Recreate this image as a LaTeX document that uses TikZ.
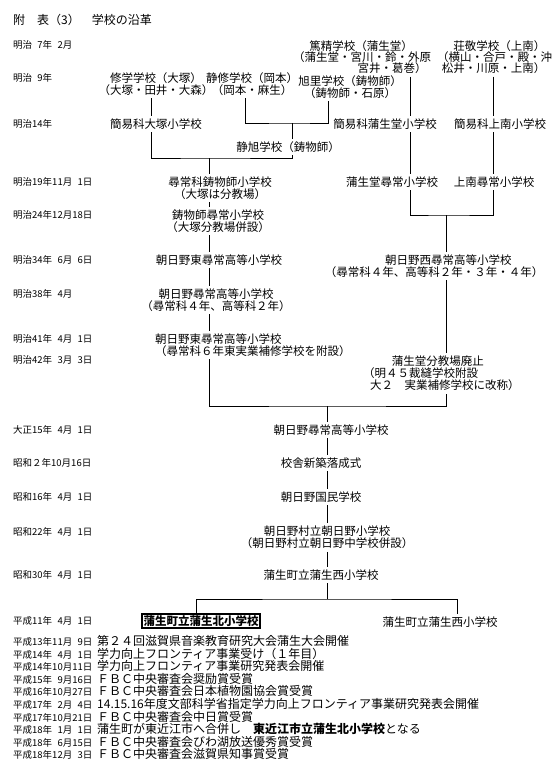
\documentclass[tikz,border=0pt]{standalone}
\usepackage{fontspec}
\setmainfont{Noto Sans CJK JP}
\newcommand\schfont{\fontsize{11.5}{12}\selectfont}
\newcommand\oldfont{\fontsize{11.5}{11.2}\selectfont}
\newcommand\datfont{\fontsize{9.5}{12}\selectfont}
\newcommand\evfont{\fontsize{12}{12}\selectfont}
\newcommand\padd{\phantom{0}}
\newcommand\evrow[2]{\makebox[84pt][l]{\datfont #1}#2}

\begin{document}
\begin{tikzpicture}[x=1pt,y=-1pt,
  every node/.style={inner sep=0pt,outer ysep=3pt,font=\schfont},
  datelbl/.style={anchor=west,font=\datfont},
  school/.style={align=center},
  schoolL/.style={align=left,anchor=west},
  oldschool/.style={align=left,anchor=west,font=\oldfont},
  newname/.style={draw,line width=1.1pt,inner sep=1.5pt,outer sep=0.5pt,font=\schfont\bfseries},
  evline/.style={anchor=west,font=\evfont,outer ysep=0pt},
  conn/.style={line width=0.8pt}]
  \useasboundingbox (0,0) rectangle (556,764);
  % column lines
  \coordinate (colA) at (209,0);
  \coordinate (colG) at (410,0);
  \coordinate (colJ) at (493,0);
  \coordinate (j1) at (292,123);
  \coordinate (j2) at (209,158);
  \coordinate (j3) at (446,215);
  \coordinate (j4) at (327,406);
  \coordinate (j5) at (327,599);

  \node[anchor=west,font=\fontsize{12}{12}\selectfont] (title) at (13,20) {附　表（3）　学校の沿革};

  % dates
  \node[datelbl] (d1) at (13,45) {明治\padd7年\padd2月};
  \node[datelbl] (d2) at (13,78) {明治\padd9年};
  \node[datelbl] (d3) at (13,124) {明治14年};
  \node[datelbl] (d4) at (13,182) {明治19年11月\padd1日};
  \node[datelbl] (d5) at (13,215) {明治24年12月18日};
  \node[datelbl] (d6) at (13,260) {明治34年\padd6月\padd6日};
  \node[datelbl] (d7) at (13,294) {明治38年\padd4月};
  \node[datelbl] (d8) at (13,339) {明治41年\padd4月\padd1日};
  \node[datelbl] (d9) at (13,360) {明治42年\padd3月\padd3日};
  \node[datelbl] (d10) at (13,430) {大正15年\padd4月\padd1日};
  \node[datelbl] (d11) at (13,463) {昭和２年10月16日};
  \node[datelbl] (d12) at (13,497) {昭和16年\padd4月\padd1日};
  \node[datelbl] (d13) at (13,532) {昭和22年\padd4月\padd1日};
  \node[datelbl] (d14) at (13,575) {昭和30年\padd4月\padd1日};
  \node[datelbl] (d15) at (13,621) {平成11年\padd4月\padd1日};

  % schools
  \node[oldschool] (tokusei) at (293,57) {\hspace*{1.4em}篤精学校（蒲生堂）\\（蒲生堂・宮川・鈴・外原\\\hspace*{5.6em}宮井・葛巻）};
  \node[oldschool] (sokei) at (437,57) {\hspace*{1.4em}荘敬学校（上南）\\（横山・合戸・殿・沖\\\hspace*{0.4em}松井・川原・上南）};
  \node[school] (shugaku) at (156,84) {修学学校（大塚）\\（大塚・田井・大森）};
  \node[school] (seishu) at (252,84) {静修学校（岡本）\\（岡本・麻生）};
  \node[school] (kyokuri) at (350,87) {旭里学校（鋳物師）\\（鋳物師・石原）};
  \node[school] (kan_otsuka) at (156,124) {簡易科大塚小学校};
  \node[school] (kan_gamo) at (385,124) {簡易科蒲生堂小学校};
  \node[school] (kan_jonan) at (500,124) {簡易科上南小学校};
  \node[school] (seikyoku) at (288,147) {静旭学校（鋳物師）};
  \node[school] (jinjo_imoji) at (220,188) {尋常科鋳物師小学校\\（大塚は分教場）};
  \node[school] (gamo_jinjo) at (392,182) {蒲生堂尋常小学校};
  \node[school] (jonan_jinjo) at (494,182) {上南尋常小学校};
  \node[school] (imoji_jinjo) at (218,221) {鋳物師尋常小学校\\（大塚分教場併設）};
  \node[school] (asahino_higashi) at (219,260) {朝日野東尋常高等小学校};
  \node[school] (asahino_nishi) at (434,266) {\hspace*{2.5em}朝日野西尋常高等小学校\\（尋常科４年、高等科２年・３年・４年）};
  \node[school] (asahino_jk) at (216,300) {朝日野尋常高等小学校\\（尋常科４年、高等科２年）};
  \node[schoolL] (asahino_higashi2) at (155,345) {朝日野東尋常高等小学校\\（尋常科６年東実業補修学校を附設）};
  \node[schoolL] (bunkyo_haishi) at (363,373.5) {\hspace*{2.5em}蒲生堂分教場廃止\\（明４５裁縫学校附設\\\hspace*{0.6em}大２　実業補修学校に改称）};
  \node[school] (asahino_jk2) at (331,430) {朝日野尋常高等小学校};
  \node[school] (kosha) at (321,463) {校舎新築落成式};
  \node[school] (kokumin) at (321,497) {朝日野国民学校};
  \node[school] (sonritsu) at (327,537.5) {朝日野村立朝日野小学校\\（朝日野村立朝日野中学校併設）};
  \node[school] (gamo_nishi) at (321,575) {蒲生町立蒲生西小学校};
  \node[newname] (gamo_kita) at (201,621) {蒲生町立蒲生北小学校};
  \node[school] (gamo_nishi2) at (440,622) {蒲生町立蒲生西小学校};

  % connectors
  \draw[conn] (shugaku.south -| 151,0) -- (kan_otsuka.north -| 151,0);
  \draw[conn] (tokusei.south -| colG) -- (kan_gamo.north -| colG);
  \draw[conn] (sokei.south -| colJ) -- (kan_jonan.north -| colJ);
  \draw[conn] (seishu.south -| 245,0) |- (j1) -| (kyokuri.south -| 328,0);
  \draw[conn] (j1) -- (seikyoku.north -| j1);
  \draw[conn] (kan_otsuka.south -| 151,0) |- (j2) -| (seikyoku.south -| j1);
  \draw[conn] (j2) -- (jinjo_imoji.north -| j2);
  \draw[conn] (kan_gamo.south -| colG) -- (gamo_jinjo.north -| colG);
  \draw[conn] (kan_jonan.south -| colJ) -- (jonan_jinjo.north -| colJ);
  \draw[conn] (gamo_jinjo.south -| colG) |- (j3) -| (jonan_jinjo.south -| colJ);
  \draw[conn] (j3) -- (asahino_nishi.north -| j3);
  \draw[conn] (jinjo_imoji.south -| colA) -- (imoji_jinjo.north -| colA);
  \draw[conn] (imoji_jinjo.south -| colA) -- (asahino_higashi.north -| colA);
  \draw[conn] (asahino_higashi.south -| colA) -- (asahino_jk.north -| colA);
  \draw[conn] (asahino_jk.south -| colA) -- (asahino_higashi2.north -| colA);
  \draw[conn] (asahino_nishi.south -| j3) -- (bunkyo_haishi.north -| j3);
  \draw[conn] (asahino_higashi2.south -| colA) |- (j4) -| (bunkyo_haishi.south -| j3);
  \draw[conn] (j4) -- (asahino_jk2.north -| j4);
  \draw[conn] (asahino_jk2.south -| j4) -- (kosha.north -| j4);
  \draw[conn] (kosha.south -| j4) -- (kokumin.north -| j4);
  \draw[conn] (kokumin.south -| j4) -- (sonritsu.north -| j4);
  \draw[conn] (sonritsu.south -| j4) -- (gamo_nishi.north -| j4);
  \draw[conn] (gamo_nishi.south -| j4) -- (j5);
  \draw[conn] (gamo_kita.north -| 196,0) |- (j5) -| (gamo_nishi2.north -| 457,0);

  % events after 1999
  \node[evline] (ev1) at (13,641) {\evrow{平成13年11月\padd9日}{第２４回滋賀県音楽教育研究大会蒲生大会開催}};
  \node[evline] (ev2) at (13,653.6) {\evrow{平成14年\padd4月\padd1日}{学力向上フロンティア事業受け（１年目）}};
  \node[evline] (ev3) at (13,666.2) {\evrow{平成14年10月11日}{学力向上フロンティア事業研究発表会開催}};
  \node[evline] (ev4) at (13,678.8) {\evrow{平成15年\padd9月16日}{ＦＢＣ中央審査会奨励賞受賞}};
  \node[evline] (ev5) at (13,691.4) {\evrow{平成16年10月27日}{ＦＢＣ中央審査会日本植物園協会賞受賞}};
  \node[evline] (ev6) at (13,704) {\evrow{平成17年\padd2月\padd4日}{14.15.16年度文部科学省指定学力向上フロンティア事業研究発表会開催}};
  \node[evline] (ev7) at (13,716.6) {\evrow{平成17年10月21日}{ＦＢＣ中央審査会中日賞受賞}};
  \node[evline] (ev8) at (13,729.2) {\evrow{平成18年\padd1月\padd1日}{蒲生町が東近江市へ合併し　{\bfseries 東近江市立蒲生北小学校}となる}};
  \node[evline] (ev9) at (13,741.8) {\evrow{平成18年\padd6月15日}{ＦＢＣ中央審査会びわ湖放送優秀賞受賞}};
  \node[evline] (ev10) at (13,754.4) {\evrow{平成18年12月\padd3日}{ＦＢＣ中央審査会滋賀県知事賞受賞}};
\end{tikzpicture}
\end{document}
